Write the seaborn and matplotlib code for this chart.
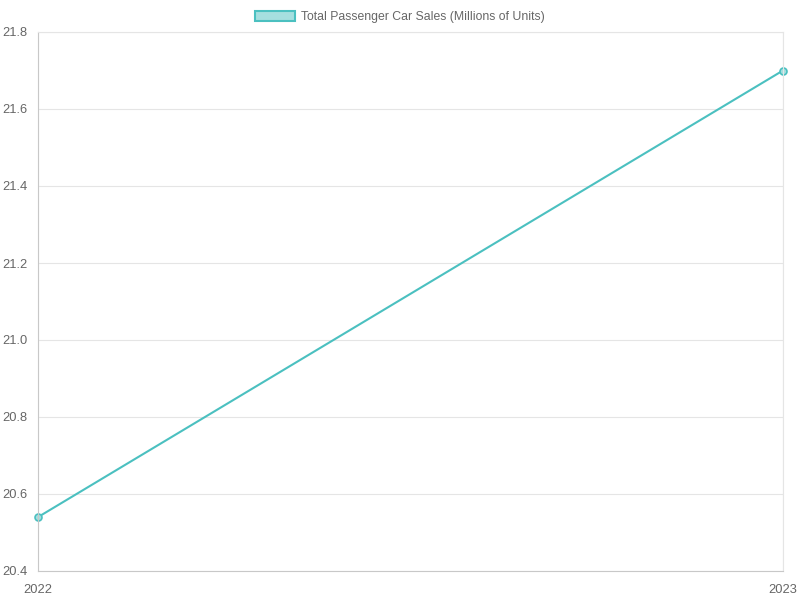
import pandas as pd
import seaborn as sns
import matplotlib.pyplot as plt
from matplotlib.patches import Patch

years = [2022, 2023]
sales = [20.54, 21.70]
label = "Total Passenger Car Sales (Millions of Units)"

df = pd.DataFrame({"Year": years, "Sales": sales})

sns.set_style("white")
plt.rcParams['font.family'] = ['Liberation Sans', 'DejaVu Sans']

teal = "#4bc0c0"
grid_c = "#e5e5e5"
axis_c = "#c8c8c8"
text_c = "#666666"

fig = plt.figure(figsize=(8, 6), dpi=100)
ax = fig.add_axes([38 / 800, 29 / 600, 745 / 800, 539 / 600])

sns.lineplot(data=df, x="Year", y="Sales", ax=ax, color=teal, linewidth=1.5,
             marker="o", markersize=5, markerfacecolor="#a5dfdf",
             markeredgecolor=teal, markeredgewidth=1.2, clip_on=False)

ax.set_xlim(2022, 2023)
ax.set_ylim(20.4, 21.8)
ax.set_xticks(years)
ax.set_xticklabels([str(y) for y in years])
yt = [20.4, 20.6, 20.8, 21.0, 21.2, 21.4, 21.6, 21.8]
ax.set_yticks(yt)
ax.set_yticklabels([f"{v:.1f}" for v in yt])
ax.set_xlabel("")
ax.set_ylabel("")

ax.grid(True, color=grid_c, linewidth=0.8)
ax.set_axisbelow(True)
for side in ["top", "right"]:
    ax.spines[side].set_color(grid_c)
    ax.spines[side].set_linewidth(0.8)
for side in ["left", "bottom"]:
    ax.spines[side].set_color(axis_c)
    ax.spines[side].set_linewidth(0.8)

ax.tick_params(axis="both", colors=axis_c, labelcolor=text_c, labelsize=9.3,
               length=3.6, width=0.8)
ax.tick_params(axis="y", pad=4)
ax.tick_params(axis="x", pad=6)

handle = Patch(facecolor="#a5dfdf", edgecolor=teal, linewidth=1.5)
fig.legend([handle], [label], loc="upper center", bbox_to_anchor=(0.5, 0.996),
           frameon=False, fontsize=8.8, labelcolor=text_c,
           handlelength=3.3, handleheight=0.95, handletextpad=0.5,
           borderaxespad=0.3)

fig.savefig("out.png", dpi=100)
